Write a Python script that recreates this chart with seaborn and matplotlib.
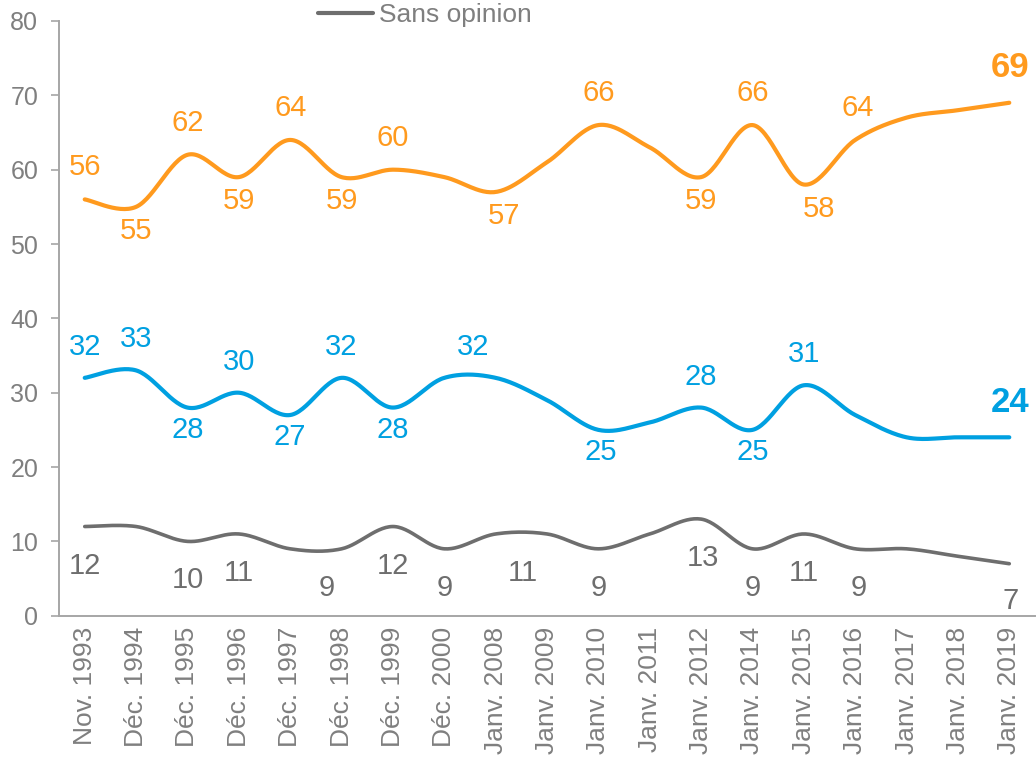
import numpy as np
import pandas as pd
import seaborn as sns
import matplotlib.pyplot as plt

# Catégories (axe des x)
categories = ["Nov. 1993", "Déc. 1994", "Déc. 1995", "Déc. 1996", "Déc. 1997",
              "Déc. 1998", "Déc. 1999", "Déc. 2000", "Janv. 2008", "Janv. 2009",
              "Janv. 2010", "Janv. 2011", "Janv. 2012", "Janv. 2014", "Janv. 2015",
              "Janv. 2016", "Janv. 2017", "Janv. 2018", "Janv. 2019"]

# Séries
orange_vals = [56, 55, 62, 59, 64, 59, 60, 59, 57, 61, 66, 63, 59, 66, 58, 64, 67, 68, 69]
bleu_vals = [32, 33, 28, 30, 27, 32, 28, 32, 32, 29, 25, 26, 28, 25, 31, 27, 24, 24, 24]
sans_opinion = [12, 12, 10, 11, 9, 9, 12, 9, 11, 11, 9, 11, 13, 9, 11, 9, 9, 8, 7]

# Etiquettes affichées : (index, position 'h' = au-dessus / 'b' = en dessous, décalage x en px)
orange_labels = [(0, 'h', 0), (1, 'b', 0), (2, 'h', 0), (3, 'b', 0), (4, 'h', 0), (5, 'b', 0),
                 (6, 'h', 0), (8, 'b', 8), (10, 'h', 0), (12, 'b', 0), (13, 'h', 0),
                 (14, 'b', 15), (15, 'h', 2)]
bleu_labels = [(0, 'h', 0), (1, 'h', 0), (2, 'b', 0), (3, 'h', 0), (4, 'b', 0), (5, 'h', 0),
               (6, 'b', 0), (7, 'h', 29), (10, 'b', 2), (12, 'h', 0), (13, 'b', 0), (14, 'h', 0)]
gris_labels = [(0, 'b', 0), (2, 'b', 0), (3, 'b', 0), (5, 'b', -15), (6, 'b', 0), (7, 'b', 0),
               (8, 'b', 27), (10, 'b', 0), (12, 'b', 2), (13, 'b', 0), (14, 'b', 0), (15, 'b', 3)]

c_orange = "#FF9A1E"
c_bleu = "#00A0E1"
c_gris = "#6E6E6E"
c_axe = "#A6A6A6"
c_txt = "#7F7F7F"


def lissage(y, n=30):
    # courbe lissée façon Excel (Bezier / Catmull-Rom)
    y = np.asarray(y, dtype=float)
    x = np.arange(len(y), dtype=float)
    xs, ys = [], []
    for i in range(len(y) - 1):
        i0, i3 = max(i - 1, 0), min(i + 2, len(y) - 1)
        p0 = np.array([x[i], y[i]])
        p3 = np.array([x[i + 1], y[i + 1]])
        p1 = p0 + (np.array([x[i + 1], y[i + 1]]) - np.array([x[i0], y[i0]])) / 6
        p2 = p3 - (np.array([x[i3], y[i3]]) - np.array([x[i], y[i]])) / 6
        t = np.linspace(0, 1, n)[:, None]
        pts = (1 - t) ** 3 * p0 + 3 * (1 - t) ** 2 * t * p1 + 3 * (1 - t) * t ** 2 * p2 + t ** 3 * p3
        xs.extend(pts[:, 0]); ys.extend(pts[:, 1])
    return xs, ys


sns.set_style("white")
plt.rcParams['font.family'] = ['Liberation Sans', 'DejaVu Sans']

fig = plt.figure(figsize=(10.36, 7.63), dpi=100)
ax = fig.add_axes([0.057, 0.193, 0.942, 0.7795])

frames = []
for nom, vals in [("orange", orange_vals), ("bleu", bleu_vals), ("Sans opinion", sans_opinion)]:
    xs, ys = lissage(vals)
    frames.append(pd.DataFrame({"x": xs, "y": ys, "serie": nom}))
df = pd.concat(frames, ignore_index=True)

sns.lineplot(data=df, x="x", y="y", hue="serie", sort=False, estimator=None,
             palette={"orange": c_orange, "bleu": c_bleu, "Sans opinion": c_gris},
             linewidth=3, ax=ax, legend=False)
for line in ax.lines:
    line.set_solid_capstyle("round")
ax.lines[2].set_linewidth(2.6)


def etiquettes(vals, labels, couleur, haut, bas):
    for i, pos, dx in labels:
        dy = haut if pos == 'h' else -bas
        ax.annotate(str(vals[i]), (i, vals[i]), xytext=(dx, dy), textcoords="offset pixels",
                    ha="center", va="center", fontsize=21, color=couleur)


etiquettes(orange_vals, orange_labels, c_orange, 32, 24)
etiquettes(bleu_vals, bleu_labels, c_bleu, 31, 22)
etiquettes(sans_opinion, gris_labels, c_gris, 0, 39)

# dernières valeurs en gras
ax.annotate(str(orange_vals[-1]), (18, orange_vals[-1]), xytext=(1, 35), textcoords="offset pixels",
            ha="center", va="center", fontsize=25, fontweight="bold", color=c_orange)
ax.annotate(str(bleu_vals[-1]), (18, bleu_vals[-1]), xytext=(1, 35), textcoords="offset pixels",
            ha="center", va="center", fontsize=25, fontweight="bold", color=c_bleu)
ax.annotate(str(sans_opinion[-1]), (18, sans_opinion[-1]), xytext=(1, -37), textcoords="offset pixels",
            ha="center", va="center", fontsize=21, color=c_gris)

ax.set_xlim(-0.5, 18.5)
ax.set_ylim(0, 80)
ax.set_yticks(range(0, 81, 10))
ax.set_xticks(range(len(categories)))
ax.set_xticklabels(categories, rotation=90)
ax.set_xticks(np.arange(-0.5, 19, 1), minor=True)
ax.tick_params(axis="x", which="major", length=0, pad=8, labelsize=19, labelcolor=c_txt)
ax.tick_params(axis="x", which="minor", length=6, width=1.2, color=c_axe, direction="out")
ax.tick_params(axis="y", length=6, width=1.2, color=c_axe, pad=9, labelsize=18,
               labelcolor=c_txt, left=True, direction="out")
ax.set_xlabel("")
ax.set_ylabel("")

for s in ["top", "right"]:
    ax.spines[s].set_visible(False)
for s in ["left", "bottom"]:
    ax.spines[s].set_color(c_axe)
    ax.spines[s].set_linewidth(1.4)

# légende (seule l'entrée "Sans opinion" est visible)
h = plt.Line2D([], [], color=c_gris, linewidth=3)
fig.legend([h], ["Sans opinion"], loc="center left", bbox_to_anchor=(318 / 1036, 1 - 15 / 763),
           frameon=False, fontsize=19, labelcolor=c_txt, handlelength=2.1, handletextpad=0.2,
           borderpad=0, borderaxespad=0)

fig.savefig("out.png", dpi=100)
